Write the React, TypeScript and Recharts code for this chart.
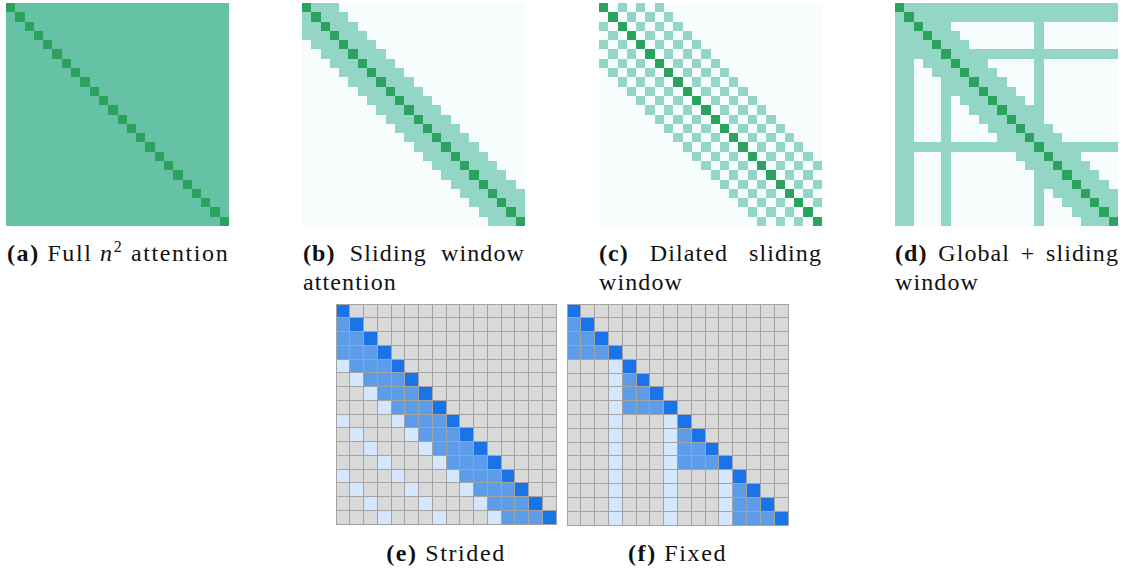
import { ScatterChart, Scatter, XAxis, YAxis } from "recharts";

// Attention masks, one string per query row, one digit per key column.
// Top row: 0 = not attended, 1 = attended, 2 = diagonal (self).
const fullRows = [
  "2111 1111 1111 1111 1111 1111",
  "1211 1111 1111 1111 1111 1111",
  "1121 1111 1111 1111 1111 1111",
  "1112 1111 1111 1111 1111 1111",
  "1111 2111 1111 1111 1111 1111",
  "1111 1211 1111 1111 1111 1111",
  "1111 1121 1111 1111 1111 1111",
  "1111 1112 1111 1111 1111 1111",
  "1111 1111 2111 1111 1111 1111",
  "1111 1111 1211 1111 1111 1111",
  "1111 1111 1121 1111 1111 1111",
  "1111 1111 1112 1111 1111 1111",
  "1111 1111 1111 2111 1111 1111",
  "1111 1111 1111 1211 1111 1111",
  "1111 1111 1111 1121 1111 1111",
  "1111 1111 1111 1112 1111 1111",
  "1111 1111 1111 1111 2111 1111",
  "1111 1111 1111 1111 1211 1111",
  "1111 1111 1111 1111 1121 1111",
  "1111 1111 1111 1111 1112 1111",
  "1111 1111 1111 1111 1111 2111",
  "1111 1111 1111 1111 1111 1211",
  "1111 1111 1111 1111 1111 1121",
  "1111 1111 1111 1111 1111 1112",
];

const slidingRows = [
  "2111 0000 0000 0000 0000 0000",
  "1211 1000 0000 0000 0000 0000",
  "1121 1100 0000 0000 0000 0000",
  "1112 1110 0000 0000 0000 0000",
  "0111 2111 0000 0000 0000 0000",
  "0011 1211 1000 0000 0000 0000",
  "0001 1121 1100 0000 0000 0000",
  "0000 1112 1110 0000 0000 0000",
  "0000 0111 2111 0000 0000 0000",
  "0000 0011 1211 1000 0000 0000",
  "0000 0001 1121 1100 0000 0000",
  "0000 0000 1112 1110 0000 0000",
  "0000 0000 0111 2111 0000 0000",
  "0000 0000 0011 1211 1000 0000",
  "0000 0000 0001 1121 1100 0000",
  "0000 0000 0000 1112 1110 0000",
  "0000 0000 0000 0111 2111 0000",
  "0000 0000 0000 0011 1211 1000",
  "0000 0000 0000 0001 1121 1100",
  "0000 0000 0000 0000 1112 1110",
  "0000 0000 0000 0000 0111 2111",
  "0000 0000 0000 0000 0011 1211",
  "0000 0000 0000 0000 0001 1121",
  "0000 0000 0000 0000 0000 1112",
];

const dilatedRows = [
  "2010 1010 0000 0000 0000 0000",
  "0201 0101 0000 0000 0000 0000",
  "1020 1010 1000 0000 0000 0000",
  "0102 0101 0100 0000 0000 0000",
  "1010 2010 1010 0000 0000 0000",
  "0101 0201 0101 0000 0000 0000",
  "1010 1020 1010 1000 0000 0000",
  "0101 0102 0101 0100 0000 0000",
  "0010 1010 2010 1010 0000 0000",
  "0001 0101 0201 0101 0000 0000",
  "0000 1010 1020 1010 1000 0000",
  "0000 0101 0102 0101 0100 0000",
  "0000 0010 1010 2010 1010 0000",
  "0000 0001 0101 0201 0101 0000",
  "0000 0000 1010 1020 1010 1000",
  "0000 0000 0101 0102 0101 0100",
  "0000 0000 0010 1010 2010 1010",
  "0000 0000 0001 0101 0201 0101",
  "0000 0000 0000 1010 1020 1010",
  "0000 0000 0000 0101 0102 0101",
  "0000 0000 0000 0010 1010 2010",
  "0000 0000 0000 0001 0101 0201",
  "0000 0000 0000 0000 1010 1020",
  "0000 0000 0000 0000 0101 0102",
];

const globalRows = [
  "2111 1111 1111 1111 1111 1111",
  "1211 1111 1111 1111 1111 1111",
  "1121 1100 0000 0001 0000 0000",
  "1112 1110 0000 0001 0000 0000",
  "1111 2111 0000 0001 0000 0000",
  "1111 1211 1111 1111 1111 1111",
  "1101 1121 1100 0001 0000 0000",
  "1100 1112 1110 0001 0000 0000",
  "1100 0111 2111 0001 0000 0000",
  "1100 0111 1211 1001 0000 0000",
  "1100 0101 1121 1101 0000 0000",
  "1100 0100 1112 1111 0000 0000",
  "1100 0100 0111 2111 0000 0000",
  "1100 0100 0011 1211 1000 0000",
  "1100 0100 0001 1121 1100 0000",
  "1111 1111 1111 1112 1111 1111",
  "1100 0100 0000 0111 2111 0000",
  "1100 0100 0000 0011 1211 1000",
  "1100 0100 0000 0001 1121 1100",
  "1100 0100 0000 0001 1112 1110",
  "1100 0100 0000 0001 0111 2111",
  "1100 0100 0000 0001 0011 1211",
  "1100 0100 0000 0001 0001 1121",
  "1100 0100 0000 0001 0000 1112",
];

// Bottom row: 0 = masked, 1 = summary column, 2 = local block, 3 = self.
const stridedRows = [
  "3000 0000 0000 0000",
  "2300 0000 0000 0000",
  "2230 0000 0000 0000",
  "2223 0000 0000 0000",
  "1222 3000 0000 0000",
  "0122 2300 0000 0000",
  "0012 2230 0000 0000",
  "0001 2223 0000 0000",
  "1000 1222 3000 0000",
  "0100 0122 2300 0000",
  "0010 0012 2230 0000",
  "0001 0001 2223 0000",
  "1000 1000 1222 3000",
  "0100 0100 0122 2300",
  "0010 0010 0012 2230",
  "0001 0001 0001 2223",
];

const fixedRows = [
  "3000 0000 0000 0000",
  "2300 0000 0000 0000",
  "2230 0000 0000 0000",
  "2223 0000 0000 0000",
  "0001 3000 0000 0000",
  "0001 2300 0000 0000",
  "0001 2230 0000 0000",
  "0001 2223 0000 0000",
  "0001 0001 3000 0000",
  "0001 0001 2300 0000",
  "0001 0001 2230 0000",
  "0001 0001 2223 0000",
  "0001 0001 0001 3000",
  "0001 0001 0001 2300",
  "0001 0001 0001 2230",
  "0001 0001 0001 2223",
];

const fullColors = ["#f7fcfd", "#66c2a4", "#2ca25f"];
const greenColors = ["#f7fcfd", "#94d6c5", "#2ca25f"];
const blueColors = ["#d9d9d9", "#d5e7fd", "#5c9ce8", "#1a73e8"];

type Pt = { x: number; y: number };

const cellsAt = (rows: string[], level: number) => {
  const out: Pt[] = [];
  rows.forEach((row, r) => {
    row
      .replace(/ /g, "")
      .split("")
      .forEach((ch, c) => {
        if (Number(ch) === level) out.push({ x: c + 0.5, y: r + 0.5 });
      });
  });
  return out;
};

type GridProps = {
  rows: string[];
  colors: string[];
  size: number;
  stroke?: string;
};

const MaskGrid = ({ rows, colors, size, stroke }: GridProps) => {
  const n = rows.length;
  const pad = stroke ? 1 : 0;
  const cell = size / n;
  return (
    <ScatterChart
      width={size + pad * 2}
      height={size + pad * 2}
      margin={{ top: pad, right: pad, bottom: pad, left: pad }}
    >
      <XAxis type="number" dataKey="x" domain={[0, n]} hide />
      <YAxis type="number" dataKey="y" domain={[0, n]} reversed hide />
      {colors.map((color, level) => (
        <Scatter
          key={level}
          data={cellsAt(rows, level)}
          isAnimationActive={false}
          shape={(p: any) => (
            <rect
              x={p.cx - cell / 2}
              y={p.cy - cell / 2}
              width={cell}
              height={cell}
              fill={color}
              stroke={stroke ?? "none"}
              strokeWidth={stroke ? 1 : 0}
              shapeRendering="crispEdges"
            />
          )}
        />
      ))}
    </ScatterChart>
  );
};

const font = '"Liberation Serif", "Times New Roman", serif';

const capStyle = {
  position: "absolute" as const,
  fontFamily: font,
  fontSize: 24,
  lineHeight: "29px",
  letterSpacing: 1.1,
  color: "#111",
};

const Label = ({ tag }: { tag: string }) => <b>({tag})</b>;

const App = () => {
  const top = 3;
  const size = 223;
  return (
    <div
      style={{
        position: "absolute",
        left: 0,
        top: 0,
        width: 1123,
        height: 574,
        background: "#fff",
        overflow: "hidden",
      }}
    >
      <div style={{ position: "absolute", left: 6, top }}>
        <MaskGrid rows={fullRows} colors={fullColors} size={size} />
      </div>
      <div style={{ position: "absolute", left: 302, top }}>
        <MaskGrid rows={slidingRows} colors={greenColors} size={size} />
      </div>
      <div style={{ position: "absolute", left: 599, top }}>
        <MaskGrid rows={dilatedRows} colors={greenColors} size={size} />
      </div>
      <div style={{ position: "absolute", left: 895, top }}>
        <MaskGrid rows={globalRows} colors={greenColors} size={size} />
      </div>

      <div style={{ position: "absolute", left: 335, top: 303 }}>
        <MaskGrid rows={stridedRows} colors={blueColors} size={220} stroke="#a3a3a3" />
      </div>
      <div style={{ position: "absolute", left: 566, top: 303 }}>
        <MaskGrid rows={fixedRows} colors={blueColors} size={221} stroke="#a3a3a3" />
      </div>

      {/* captions */}
      <div style={{ ...capStyle, left: 7, top: 239, whiteSpace: "nowrap", letterSpacing: 1.6 }}>
        <Label tag="a" /> Full <i>n</i>
        <sup style={{ fontSize: 16, lineHeight: 0 }}>2</sup> attention
      </div>
      <div style={{ ...capStyle, left: 303, top: 239, width: 222 }}>
        <div style={{ display: "flex", justifyContent: "space-between" }}>
          <Label tag="b" />
          <span>Sliding</span>
          <span>window</span>
        </div>
        <div>attention</div>
      </div>
      <div style={{ ...capStyle, left: 599, top: 239, width: 223 }}>
        <div style={{ display: "flex", justifyContent: "space-between" }}>
          <Label tag="c" />
          <span>Dilated</span>
          <span>sliding</span>
        </div>
        <div>window</div>
      </div>
      <div style={{ ...capStyle, left: 895, top: 239, width: 224 }}>
        <div style={{ display: "flex", justifyContent: "space-between" }}>
          <Label tag="d" />
          <span>Global</span>
          <span>+</span>
          <span>sliding</span>
        </div>
        <div>window</div>
      </div>
      <div style={{ ...capStyle, left: 336, top: 539, width: 220, textAlign: "center", letterSpacing: 1.6 }}>
        <Label tag="e" /> Strided
      </div>
      <div style={{ ...capStyle, left: 567, top: 539, width: 221, textAlign: "center", letterSpacing: 1.6 }}>
        <Label tag="f" /> Fixed
      </div>
    </div>
  );
};

export default App;
